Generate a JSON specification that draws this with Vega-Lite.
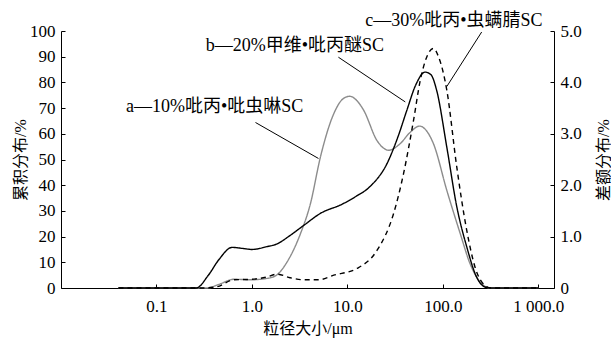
{
  "$schema": "https://vega.github.io/schema/vega-lite/v6.json",
  "width": 493,
  "height": 257,
  "autosize": {"type": "none"},
  "padding": {"left": 61, "top": 31, "right": 57, "bottom": 54},
  "background": "white",
  "config": {
    "view": {"stroke": null},
    "font": "Liberation Serif, Noto Sans CJK SC",
    "axis": {"grid": false, "domainColor": "black", "tickColor": "black", "labelColor": "black", "titleColor": "black", "labelFont": "Liberation Serif, Noto Sans CJK SC", "titleFont": "Liberation Serif, Noto Sans CJK SC", "labelFontSize": 17, "titleFontSize": 16, "titleFontWeight": "normal", "tickSize": -4, "labelPadding": 10}
  },
  "datasets": {
    "curves": [
      {"s": "a", "x": 0.04, "y": 0}, {"s": "a", "x": 0.34, "y": 0}, {"s": "a", "x": 0.45, "y": 0.07}, {"s": "a", "x": 0.65, "y": 0.17}, {"s": "a", "x": 0.97, "y": 0.16}, {"s": "a", "x": 1.57, "y": 0.2}, {"s": "a", "x": 1.84, "y": 0.26}, {"s": "a", "x": 2.34, "y": 0.51}, {"s": "a", "x": 3.23, "y": 1.06}, {"s": "a", "x": 4.1, "y": 1.64}, {"s": "a", "x": 5.22, "y": 2.55}, {"s": "a", "x": 7.2, "y": 3.39}, {"s": "a", "x": 9, "y": 3.68}, {"s": "a", "x": 10.6, "y": 3.73}, {"s": "a", "x": 12.5, "y": 3.65}, {"s": "a", "x": 14.8, "y": 3.46}, {"s": "a", "x": 20.4, "y": 2.87}, {"s": "a", "x": 24, "y": 2.72}, {"s": "a", "x": 27, "y": 2.68}, {"s": "a", "x": 35.8, "y": 2.81}, {"s": "a", "x": 45, "y": 3.02}, {"s": "a", "x": 57, "y": 3.15}, {"s": "a", "x": 68, "y": 3.05}, {"s": "a", "x": 79.6, "y": 2.81}, {"s": "a", "x": 110, "y": 1.9}, {"s": "a", "x": 152, "y": 1.06}, {"s": "a", "x": 193, "y": 0.47}, {"s": "a", "x": 245, "y": 0.12}, {"s": "a", "x": 312, "y": 0}, {"s": "a", "x": 1000, "y": 0},
      {"s": "b", "x": 0.04, "y": 0}, {"s": "b", "x": 0.26, "y": 0}, {"s": "b", "x": 0.35, "y": 0.25}, {"s": "b", "x": 0.45, "y": 0.55}, {"s": "b", "x": 0.62, "y": 0.79}, {"s": "b", "x": 0.8, "y": 0.77}, {"s": "b", "x": 1.0, "y": 0.75}, {"s": "b", "x": 1.4, "y": 0.8}, {"s": "b", "x": 1.84, "y": 0.86}, {"s": "b", "x": 2.5, "y": 1.02}, {"s": "b", "x": 3.5, "y": 1.22}, {"s": "b", "x": 5.2, "y": 1.45}, {"s": "b", "x": 8.8, "y": 1.63}, {"s": "b", "x": 12, "y": 1.77}, {"s": "b", "x": 17.4, "y": 1.98}, {"s": "b", "x": 26, "y": 2.42}, {"s": "b", "x": 34, "y": 2.95}, {"s": "b", "x": 42, "y": 3.46}, {"s": "b", "x": 52, "y": 3.95}, {"s": "b", "x": 65, "y": 4.2}, {"s": "b", "x": 75, "y": 4.15}, {"s": "b", "x": 86, "y": 3.85}, {"s": "b", "x": 110, "y": 2.74}, {"s": "b", "x": 140, "y": 1.58}, {"s": "b", "x": 178, "y": 0.8}, {"s": "b", "x": 226, "y": 0.21}, {"s": "b", "x": 276, "y": 0.02}, {"s": "b", "x": 320, "y": 0}, {"s": "b", "x": 1000, "y": 0},
      {"s": "c", "x": 0.04, "y": 0}, {"s": "c", "x": 0.3, "y": 0}, {"s": "c", "x": 0.42, "y": 0.02}, {"s": "c", "x": 0.65, "y": 0.16}, {"s": "c", "x": 1.0, "y": 0.17}, {"s": "c", "x": 1.4, "y": 0.21}, {"s": "c", "x": 1.84, "y": 0.27}, {"s": "c", "x": 2.5, "y": 0.2}, {"s": "c", "x": 3.5, "y": 0.16}, {"s": "c", "x": 5, "y": 0.16}, {"s": "c", "x": 7.2, "y": 0.25}, {"s": "c", "x": 12.6, "y": 0.38}, {"s": "c", "x": 20.4, "y": 0.73}, {"s": "c", "x": 30.5, "y": 1.45}, {"s": "c", "x": 38.8, "y": 2.23}, {"s": "c", "x": 49.3, "y": 3.26}, {"s": "c", "x": 58, "y": 4.04}, {"s": "c", "x": 68, "y": 4.5}, {"s": "c", "x": 79.6, "y": 4.66}, {"s": "c", "x": 90, "y": 4.5}, {"s": "c", "x": 110, "y": 3.85}, {"s": "c", "x": 140, "y": 2.35}, {"s": "c", "x": 178, "y": 1.12}, {"s": "c", "x": 217, "y": 0.41}, {"s": "c", "x": 276, "y": 0.05}, {"s": "c", "x": 320, "y": 0}, {"s": "c", "x": 1000, "y": 0}
    ],
    "labels": [
      {"label": "a—10%吡丙•吡虫啉SC", "x": 0.048, "y": 3.52},
      {"label": "b—20%甲维•吡丙醚SC", "x": 0.328, "y": 4.7},
      {"label": "c—30%吡丙•虫螨腈SC", "x": 15.4, "y": 5.19}
    ],
    "leaders": [
      {"x": 1.09, "y": 3.22, "x2": 4.98, "y2": 2.52},
      {"x": 8.05, "y": 4.49, "x2": 40.4, "y2": 3.62},
      {"x": 255, "y": 4.98, "x2": 110, "y2": 3.92}
    ],
    "left": [{"v": 0}, {"v": 100}]
  },
  "resolve": {"scale": {"y": "independent"}},
  "layer": [
    {
      "data": {"name": "left"},
      "mark": {"type": "point", "opacity": 0},
      "encoding": {
        "y": {"field": "v", "type": "quantitative", "scale": {"domain": [0, 100], "nice": false}, "axis": {"orient": "left", "title": "累积分布/%", "values": [0, 10, 20, 30, 40, 50, 60, 70, 80, 90, 100], "titleX": -41, "titleY": 128.5, "titleAngle": -90, "titleAlign": "center", "titleBaseline": "middle"}}
      }
    },
    {
      "layer": [
        {
          "data": {"name": "curves"},
          "mark": {"type": "line", "interpolate": "monotone", "strokeWidth": 1.4},
          "encoding": {
            "x": {"field": "x", "type": "quantitative", "scale": {"type": "log", "domain": [0.01, 1460], "nice": false}, "axis": {"title": "粒径大小/μm", "values": [0.1, 1, 10, 100, 1000], "labelExpr": "datum.value < 0.5 ? '0.1' : datum.value < 5 ? '1.0' : datum.value < 50 ? '10.0' : datum.value < 500 ? '100.0' : '1 000.0'", "labelPadding": 14, "titleX": 246.5, "titleY": 40, "titleAlign": "center", "titleBaseline": "middle"}},
            "y": {"field": "y", "type": "quantitative", "scale": {"domain": [0, 5], "nice": false}, "axis": {"orient": "right", "title": "差额分布/%", "values": [0, 0.5, 1, 1.5, 2, 2.5, 3, 3.5, 4, 4.5, 5], "labelExpr": "datum.value == 0 ? '0' : format(datum.value, '.1f')", "titleX": 49, "titleY": 128.5, "titleAngle": -90, "titleAlign": "center", "titleBaseline": "middle"}},
            "color": {"field": "s", "type": "nominal", "scale": {"domain": ["a", "b", "c"], "range": ["#8c8c8c", "#000000", "#000000"]}, "legend": null},
            "strokeDash": {"field": "s", "type": "nominal", "scale": {"domain": ["a", "b", "c"], "range": [[1, 0], [1, 0], [5, 4]]}, "legend": null}
          }
        },
        {
          "data": {"name": "leaders"},
          "mark": {"type": "rule", "color": "black", "strokeWidth": 1},
          "encoding": {
            "x": {"field": "x", "type": "quantitative"},
            "y": {"field": "y", "type": "quantitative"},
            "x2": {"field": "x2"},
            "y2": {"field": "y2"}
          }
        },
        {
          "data": {"name": "labels"},
          "mark": {"type": "text", "align": "left", "baseline": "middle", "fontSize": 18, "color": "black", "font": "Liberation Serif, Noto Sans CJK SC"},
          "encoding": {
            "x": {"field": "x", "type": "quantitative"},
            "y": {"field": "y", "type": "quantitative"},
            "text": {"field": "label"}
          }
        }
      ]
    }
  ]
}
